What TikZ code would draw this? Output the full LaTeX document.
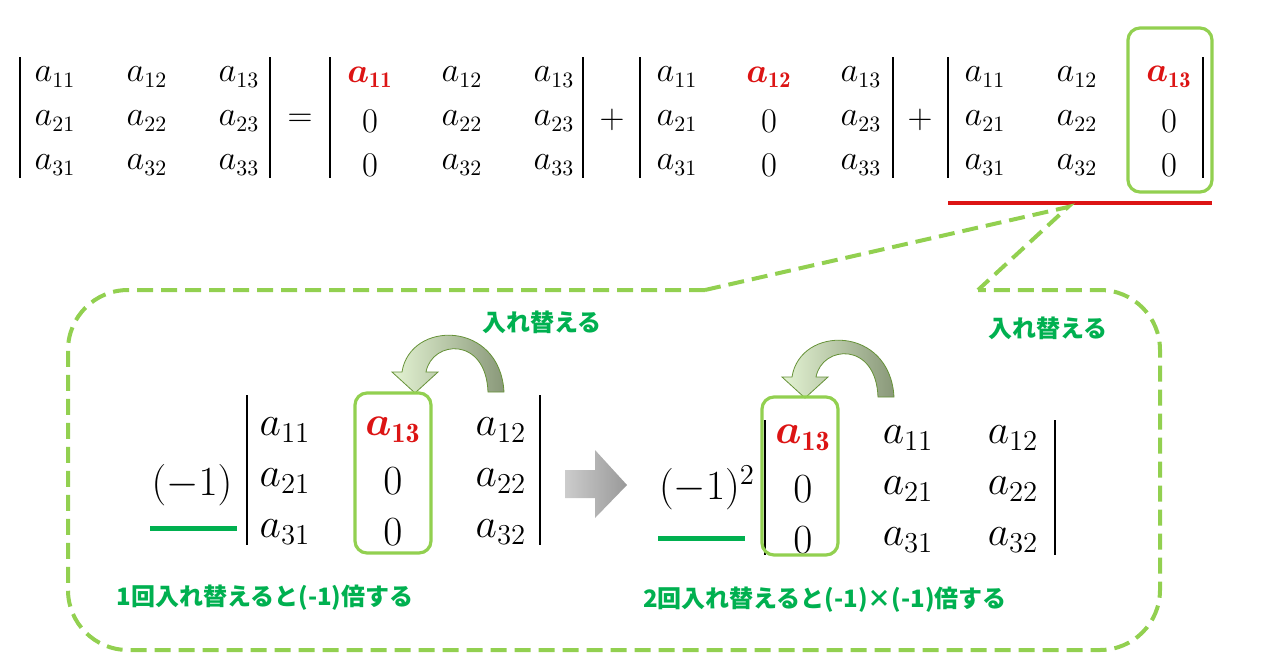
\documentclass[tikz,border=0pt]{standalone}
\usepackage{amsmath,bm}
\usepackage{fontspec}
\newfontfamily\jp{Noto Sans CJK JP}
\definecolor{lg}{RGB}{146,208,80}
\definecolor{dg}{RGB}{0,176,80}
\definecolor{rd}{RGB}{220,20,20}
\newcommand{\red}[1]{\textcolor{rd}{\bm{a}_{\mathbf{#1}}}}
\newcommand{\topdet}[4]{%
 \draw[bar] (#1,57) -- (#1,178);
 \draw[bar] (#2,57) -- (#2,178);
 \foreach \v [count=\i from 0] in {#4} {
   \pgfmathtruncatemacro{\r}{int(\i/3)}
   \pgfmathtruncatemacro{\c}{mod(\i,3)}
   \node[e] (t#1-\i) at ({#3+\c*92+5},{77+\r*44}) {\v};
 }}
\begin{document}
\begin{tikzpicture}[x=0.5pt,y=-0.5pt]
\tikzset{
 e/.style={font=\fontsize{16}{16}\selectfont},
 E/.style={font=\fontsize{20}{20}\selectfont},
 bar/.style={line width=1.2pt},
 gbox/.style={draw=lg,line width=1.6pt,rounded corners=6pt},
 jl/.style={font=\jp\bfseries\fontsize{12}{12}\selectfont,text=dg},
 swap/.style={draw=lg!70!black,line width=0.4pt,left color=lg!25,right color=lg!40!black!60}
}
\useasboundingbox (0,0) rectangle (1280,670);
\topdet{20}{270}{50}{$a_{11}$,$a_{12}$,$a_{13}$,$a_{21}$,$a_{22}$,$a_{23}$,$a_{31}$,$a_{32}$,$a_{33}$}
\topdet{330}{583}{365}{$\red{11}$,$a_{12}$,$a_{13}$,$0$,$a_{22}$,$a_{23}$,$0$,$a_{32}$,$a_{33}$}
\topdet{640}{893}{672}{$a_{11}$,$\red{12}$,$a_{13}$,$a_{21}$,$0$,$a_{23}$,$a_{31}$,$0$,$a_{33}$}
\topdet{948}{1203}{980}{$a_{11}$,$a_{12}$,$\red{13}$,$a_{21}$,$a_{22}$,$0$,$a_{31}$,$a_{32}$,$0$}
\node[e] (eq) at (300,120) {$=$};
\node[e] (p1) at (612,120) {$+$};
\node[e] (p2) at (920,120) {$+$};
\node[gbox,minimum width=42pt,minimum height=82pt] (hb) at (1170,110) {};
\draw[rd,line width=2pt] (948,203) coordinate (ru1) -- (1212,203) coordinate (ru2);
% dashed callout
\coordinate (tip) at (1068,207);
\draw[lg,line width=2pt,dash pattern=on 8pt off 4pt,rounded corners=30pt]
 (705,290) -- (68,290) -- (68,650) -- (1160,650) -- (1160,290) -- (978,290);
\draw[lg,line width=2pt,dash pattern=on 8pt off 4pt] (705,290) -- (tip) -- (978,290);
% swap arrows
\foreach \sx/\sy in {0/0,390/5}{
\begin{scope}[shift={(\sx,\sy)}]
\path[swap] (504,392) .. controls (500,320) and (410,320) .. (402,372) -- (392,372) -- (415,393) -- (438,372) -- (426,372) .. controls (432,340) and (486,336) .. (488,392) -- cycle;
\end{scope}}
\node[jl] (s1) at (542,322) {入れ替える};
\node[jl] (s2) at (1048,328) {入れ替える};
% bottom left
\node[E] (m1) at (192,485) {$(-1)$};
\draw[bar] (247,395) -- (247,545);
\draw[bar] (540,395) -- (540,545);
\foreach \v [count=\i from 0] in {$a_{11}$,$\red{13}$,$a_{12}$,$a_{21}$,$0$,$a_{22}$,$a_{31}$,$0$,$a_{32}$}{
 \pgfmathtruncatemacro{\r}{int(\i/3)}
 \pgfmathtruncatemacro{\c}{mod(\i,3)}
 \node[E] (l\i) at ({285+\c*108},{430+\r*51}) {\v};
}
\node[gbox,minimum width=38pt,minimum height=80pt] (lb) at (393,473) {};
\draw[dg,line width=2.5pt] (150,528) -- (237,528);
\node[jl] (c1) at (265,598) {1回入れ替えると(-1)倍する};
% gray arrow
\path[left color=gray!40,right color=gray!80] (565,470) -- (595,470) -- (595,450) -- (627,485) -- (595,518) -- (595,498) -- (565,498) -- cycle;
% bottom right
\node[E] (m2) at (707,488) {$(-1)^2$};
\draw[bar] (765,420) -- (765,555);
\draw[bar] (1055,420) -- (1055,555);
\foreach \v [count=\i from 0] in {$\red{13}$,$a_{11}$,$a_{12}$,$0$,$a_{21}$,$a_{22}$,$0$,$a_{31}$,$a_{32}$}{
 \pgfmathtruncatemacro{\r}{int(\i/3)}
 \pgfmathtruncatemacro{\c}{mod(\i,3)}
 \node[E] (r\i) at ({803+\c*105},{438+\r*51}) {\v};
}
\node[gbox,minimum width=38pt,minimum height=79pt] (rb) at (800,476) {};
\draw[dg,line width=2.5pt] (658,538) -- (745,538);
\node[jl] (c2) at (825,600) {2回入れ替えると(-1)×(-1)倍する};
\end{tikzpicture}
\end{document}
